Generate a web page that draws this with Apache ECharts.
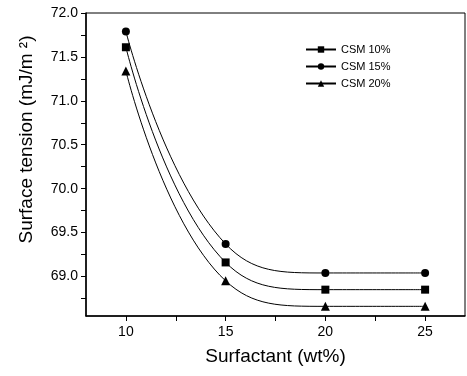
<!DOCTYPE html>
<html>
<head>
<meta charset="utf-8">
<script src="https://cdn.jsdelivr.net/npm/echarts@6/dist/echarts.min.js"></script>
<style>
  html, body { margin: 0; padding: 0; background: #fff; }
  #chart { width: 467px; height: 376px; }
</style>
</head>
<body>
<div id="chart"></div>
<script>
// surfactant content (wt%)
var surfactant = [10, 15, 20, 25];
// surface tension values, mJ/m2
var csm10 = [71.61, 69.16, 68.85, 68.85];
var csm15 = [71.79, 69.37, 69.04, 69.04];
var csm20 = [71.34, 68.95, 68.66, 68.66];
var seriesNames = ["CSM 10%", "CSM 15%", "CSM 20%"];

// tick labels
var xLabels = [10, 15, 20, 25];
var xTicks = [10, 12.5, 15, 17.5, 20, 22.5, 25];
var yLabels = [69.0, 69.5, 70.0, 70.5, 71.0, 71.5, 72.0];
var yTicks = [68.75, 69, 69.25, 69.5, 69.75, 70, 70.25, 70.5, 70.75, 71, 71.25, 71.5, 71.75, 72];

var font = "Liberation Sans, Arial, sans-serif";

function pairs(ys) {
  return surfactant.map(function(x, i) {
    return [x, ys[i]];
  });
}

function makeSeries(name, ys, symbol) {
  return {
    name: name,
    type: "line",
    data: pairs(ys),
    smooth: 0.45,
    symbol: symbol,
    symbolSize: symbol === "triangle" ? 9 : 8,
    itemStyle: { color: "#000" },
    lineStyle: { color: "#000", width: 1 }
  };
}

var chart = echarts.init(document.getElementById("chart"));
var option = {
  animation: false,
  backgroundColor: "#fff",
  grid: {
    left: 86,
    top: 13,
    right: 2,
    bottom: 60,
    show: true,
    borderColor: "#000",
    borderWidth: 1
  },
  legend: {
    orient: "vertical",
    left: 300,
    top: 39,
    itemWidth: 30,
    itemHeight: 8,
    itemGap: 6,
    textStyle: { fontFamily: font, fontSize: 11, color: "#000" },
    data: seriesNames
  },
  xAxis: {
    type: "value",
    min: 8,
    max: 27,
    name: "Surfactant (wt%)",
    nameLocation: "middle",
    nameGap: 31,
    nameTextStyle: { fontFamily: font, fontSize: 19, color: "#000" },
    axisLine: { lineStyle: { color: "#000", width: 1.5 } },
    axisTick: { length: 5, lineStyle: { color: "#000" }, customValues: xTicks },
    axisLabel: { fontFamily: font, fontSize: 14, color: "#000", margin: 9, customValues: xLabels },
    splitLine: { show: false }
  },
  yAxis: {
    type: "value",
    min: 68.55,
    max: 72,
    name: "Surface tension (mJ/m ²)",
    nameLocation: "middle",
    nameGap: 50,
    nameTextStyle: { fontFamily: font, fontSize: 19, color: "#000", padding: [0, 0, 0, 50] },
    axisLine: { show: true, lineStyle: { color: "#000", width: 1.5 } },
    axisTick: { show: true, length: 5, lineStyle: { color: "#000" }, customValues: yTicks },
    axisLabel: {
      fontFamily: font,
      fontSize: 14,
      color: "#000",
      margin: 8,
      customValues: yLabels,
      formatter: function(v) { return v.toFixed(1); }
    },
    splitLine: { show: false }
  },
  series: [
    makeSeries(seriesNames[0], csm10, "rect"),
    makeSeries(seriesNames[1], csm15, "circle"),
    makeSeries(seriesNames[2], csm20, "triangle")
  ]
};
chart.setOption(option);
</script>
</body>
</html>
